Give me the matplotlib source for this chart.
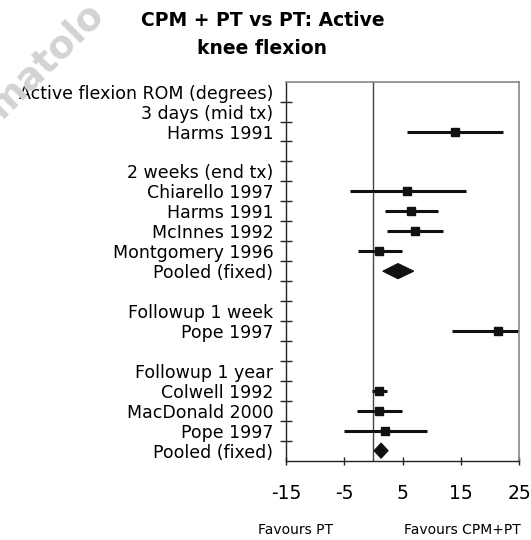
import matplotlib
matplotlib.use('Agg')
import matplotlib.pyplot as plt
from matplotlib.patches import Polygon

# rows of the forest plot, top to bottom ('' = spacer row)
row_labels = ['Active flexion ROM (degrees)', '3 days (mid tx)', 'Harms 1991', '',
              '2 weeks (end tx)', 'Chiarello 1997', 'Harms 1991', 'McInnes 1992',
              'Montgomery 1996', 'Pooled (fixed)', '',
              'Followup 1 week', 'Pope 1997', '',
              'Followup 1 year', 'Colwell 1992', 'MacDonald 2000', 'Pope 1997',
              'Pooled (fixed)']

# individual trials: row index, mean difference, 95% CI
study_rows = [2, 5, 6, 7, 8, 12, 15, 16, 17]
study_est = [13.9, 5.8, 6.5, 7.1, 1.0, 21.4, 1.0, 1.0, 1.9]
study_lo = [5.8, -4.1, 2.0, 2.3, -2.7, 13.5, -0.2, -2.8, -5.0]
study_hi = [22.2, 15.8, 11.1, 11.9, 4.9, 29.3, 2.3, 4.9, 9.2]

# pooled (fixed effect) estimates
pooled_rows = [9, 18]
pooled_est = [4.2, 1.3]
pooled_lo = [1.6, 0.1]
pooled_hi = [6.9, 2.5]

x_ticks = [-15, -5, 5, 15, 25]

fig = plt.figure(figsize=(5.31, 5.40), dpi=100)
fig.patch.set_facecolor('white')

# faint journal watermark in the corner
fig.text(0.003, 0.781, 'matolo', fontsize=27, fontweight='bold',
         color='#d3d3d3', rotation=45, rotation_mode='anchor',
         ha='left', va='baseline', zorder=0)

ax = fig.add_axes([0.5386, 0.1469, 0.4394, 0.7019])
ax.patch.set_alpha(0)
n = len(row_labels)
ax.set_xlim(-15, 25)
ax.set_ylim(n, 0)

# no-effect line
ax.axvline(0, color='#444444', lw=1.0, zorder=1)

for r, est, lo, hi in zip(study_rows, study_est, study_lo, study_hi):
    y = r + 0.5
    ax.plot([lo, hi], [y, y], color='#111111', lw=2.2, solid_capstyle='butt', zorder=2)
    ax.plot(est, y, marker='s', color='#111111', markersize=6.2, zorder=3)

for r, est, lo, hi in zip(pooled_rows, pooled_est, pooled_lo, pooled_hi):
    y = r + 0.5
    h = 0.38
    ax.add_patch(Polygon([(lo, y), (est, y - h), (hi, y), (est, y + h)],
                         closed=True, facecolor='#111111', edgecolor='#111111',
                         lw=0.8, zorder=3))

# row boundaries as ticks, labels centred in each row
ax.set_yticks(range(1, n))
ax.set_yticklabels([])
ax.set_yticks([i + 0.5 for i in range(n)], minor=True)
ax.set_yticklabels(row_labels, minor=True, fontsize=12.5)
ax.tick_params(axis='y', which='major', direction='inout', length=8.5, width=1.0,
               color='#222222')
ax.tick_params(axis='y', which='minor', length=0, pad=9)

ax.set_xticks(x_ticks)
ax.set_xticklabels([str(t) for t in x_ticks], fontsize=13.5)
ax.tick_params(axis='x', direction='inout', length=6, width=1.0, color='#222222', pad=14)

for side in ['left', 'bottom']:
    ax.spines[side].set_color('#222222')
    ax.spines[side].set_linewidth(1.0)
for side in ['top', 'right']:
    ax.spines[side].set_color('#888888')
    ax.spines[side].set_linewidth(1.2)

fig.text(0.494, 0.936, 'CPM + PT vs PT: Active\nknee flexion', fontsize=13.5,
         fontweight='bold', ha='center', va='center', linespacing=1.55)

fig.text(296 / 531, 0.0194, 'Favours PT', fontsize=10, ha='center', va='center')
fig.text(462 / 531, 0.0194, 'Favours CPM+PT', fontsize=10, ha='center', va='center')

fig.savefig('out.png', dpi=100, facecolor='white')
